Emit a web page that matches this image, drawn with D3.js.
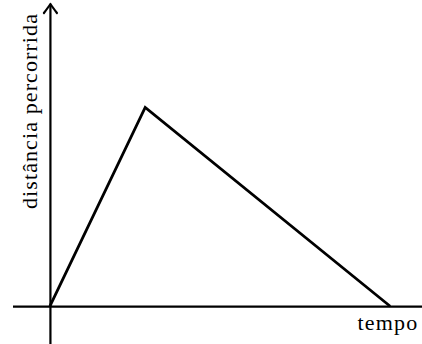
<!DOCTYPE html>
<html>
<head>
<meta charset="utf-8">
<script src="https://cdn.jsdelivr.net/npm/d3@7"></script>
<style>
  html, body { margin: 0; padding: 0; background: #fff; }
</style>
</head>
<body>
<div class="vis-holder"></div>
<script>
// vertices of the distance/time graph (arbitrary units)
var times = [0, 2.8, 10];
var distances = [0, 5, 0];

// axis extents in the same units
var timeExtent = [-1.1, 10.95];
var distExtent = [-0.95, 7.6];

var xLabelText = "tempo";
var yLabelText = "distância percorrida";

function draw_graph() {
	var width = 422;
	var height = 344;

	var svg = d3.select('div.vis-holder')
				.append('svg')
				.attr('width', width)
				.attr('height', height)
				.style('display', 'block')
				.style('background', '#ffffff');

	var xScale = d3.scaleLinear()
				   .domain(timeExtent)
				   .range([12.5, 422.5]);

	var yScale = d3.scaleLinear()
				   .domain(distExtent)
				   .range([344, 4]);

	// horizontal axis: plain line through distance 0
	var xAxis = svg.append("g")
				   .attr("transform", `translate(0, ${yScale(0)})`)
				   .call(d3.axisBottom(xScale).tickValues([]).tickSizeOuter(0));

	// vertical axis: plain line through time 0
	var yAxis = svg.append("g")
				   .attr("transform", `translate(${xScale(0)}, 0)`)
				   .call(d3.axisLeft(yScale).tickValues([]).tickSizeOuter(0));

	svg.selectAll(".domain")
	   .attr("stroke", "#000")
	   .attr("stroke-width", 2.2);

	// arrow head on top of the vertical axis
	var tipX = xScale(0) + 0.5;
	var tipY = yScale(distExtent[1]);
	svg.append("path")
	   .attr("d", "M" + (tipX - 6.5) + "," + (tipY + 9) +
				  " Q" + (tipX - 2) + "," + (tipY + 3) + " " + tipX + "," + tipY +
				  " Q" + (tipX + 2) + "," + (tipY + 3) + " " + (tipX + 6.5) + "," + (tipY + 9))
	   .attr("fill", "none")
	   .attr("stroke", "#000")
	   .attr("stroke-width", 2.2)
	   .attr("stroke-linecap", "round")
	   .attr("stroke-linejoin", "round");

	var points = times.map(function(t, i) { return [t, distances[i]]; });

	var line = d3.line()
				 .x(function(d) { return xScale(d[0]); })
				 .y(function(d) { return yScale(d[1]); });

	svg.append("path")
	   .datum(points)
	   .attr("d", line)
	   .attr("fill", "none")
	   .attr("stroke", "#000")
	   .attr("stroke-width", 2.8)
	   .attr("stroke-linejoin", "miter");

	var yLabel = svg.append("text")
					.attr("text-anchor", "middle")
					.attr("transform", "translate(37,111)rotate(-90)")
					.style("font-family", "'Liberation Serif', 'DejaVu Serif', serif")
					.style("font-size", "22px")
					.style("letter-spacing", "1.1px")
					.text(yLabelText);

	var xLabel = svg.append("text")
					.attr("text-anchor", "middle")
					.attr("x", 388)
					.attr("y", 330)
					.style("font-family", "'Liberation Serif', 'DejaVu Serif', serif")
					.style("font-size", "22px")
					.style("letter-spacing", "1.2px")
					.text(xLabelText);
}

draw_graph();
</script>
</body>
</html>
